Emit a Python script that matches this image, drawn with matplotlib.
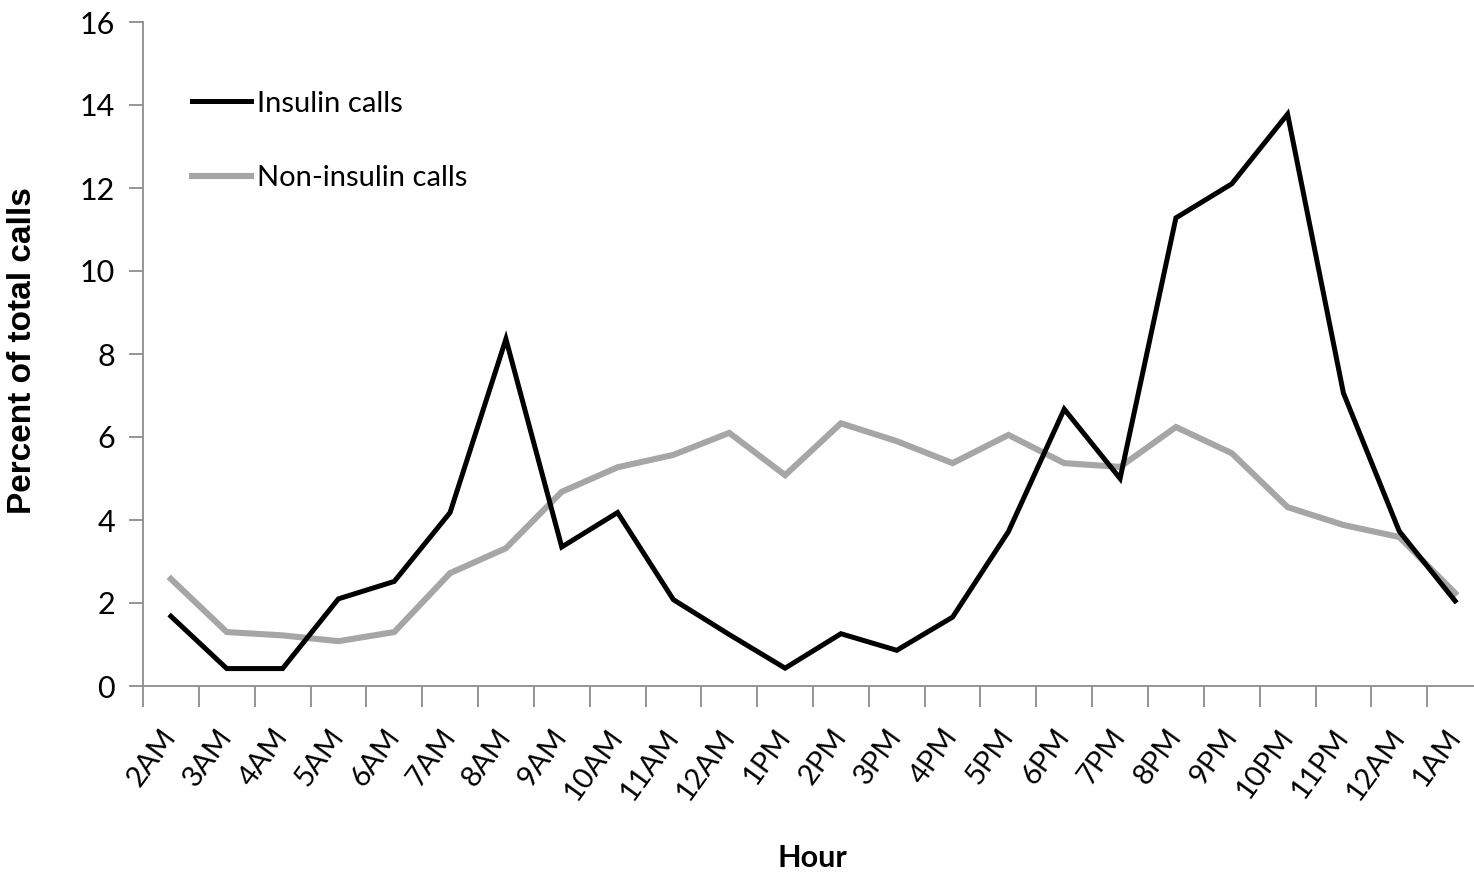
import matplotlib
matplotlib.use("Agg")
import matplotlib.pyplot as plt
import numpy as np

hours = ["2AM", "3AM", "4AM", "5AM", "6AM", "7AM", "8AM", "9AM", "10AM", "11AM",
         "12AM", "1PM", "2PM", "3PM", "4PM", "5PM", "6PM", "7PM", "8PM", "9PM",
         "10PM", "11PM", "12AM", "1AM"]
insulin = [1.68, 0.42, 0.42, 2.1, 2.52, 4.18, 8.36, 3.35, 4.18, 2.08,
           1.24, 0.43, 1.26, 0.86, 1.66, 3.72, 6.67, 5.0, 11.28, 12.1,
           13.78, 7.06, 3.73, 2.05]
non_insulin = [2.58, 1.3, 1.22, 1.08, 1.3, 2.72, 3.32, 4.68, 5.27, 5.57,
               6.1, 5.08, 6.33, 5.9, 5.37, 6.05, 5.37, 5.28, 6.24, 5.61,
               4.31, 3.88, 3.59, 2.24]
yticks = [0, 2, 4, 6, 8, 10, 12, 14, 16]

W, H = 1474, 874
fig = plt.figure(figsize=(W / 100, H / 100), dpi=100)
ax_w = 1483 - 143
ax_h = 686 - 22
ax = fig.add_axes([143 / W, (H - 686) / H, ax_w / W, ax_h / H])

x = np.arange(len(hours))
grey = "#a6a6a6"
ax.plot(x, non_insulin, color=grey, lw=4.4, solid_joinstyle="miter", label="Non-insulin calls", zorder=2)
ax.plot(x, insulin, color="black", lw=3.6, solid_joinstyle="miter", label="Insulin calls", zorder=3)

ax.set_xlim(-0.5, len(hours) - 0.5)
ax.set_ylim(0, 16)

axis_col = "#8c8c8c"
for s in ["top", "right"]:
    ax.spines[s].set_visible(False)
for s in ["left", "bottom"]:
    ax.spines[s].set_color(axis_col)
    ax.spines[s].set_linewidth(1.3)

tick_font = ["Lato", "DejaVu Sans"]
ax.set_yticks(yticks)
ax.set_yticklabels([str(v) for v in yticks], family=tick_font, fontsize=22)
ax.tick_params(axis="y", direction="out", length=10, width=1.3, color=axis_col, pad=10)

ax.set_xticks(np.arange(len(hours) + 1) - 0.5)
ax.set_xticklabels([])
ax.tick_params(axis="x", which="major", direction="out", length=15, width=1.3, color=axis_col)
ax.set_xticks(x, minor=True)
ax.set_xticklabels(hours, minor=True, family=tick_font, fontsize=21, rotation=54,
                   ha="right", va="center", rotation_mode="anchor")
ax.tick_params(axis="x", which="minor", length=0, pad=33)

ax.set_ylabel("Percent of total calls", family=["Liberation Sans", "DejaVu Sans"],
              fontweight="bold", fontsize=24)
ax.yaxis.set_label_coords(-(143 - 38) / ax_w, (686 - 351) / ax_h)
fig.text(812 / W, 1 - 858 / H, "Hour", family=tick_font, fontweight="bold",
         fontsize=22, ha="center", va="center")

handles, labels = ax.get_legend_handles_labels()
leg = ax.legend(handles[::-1], labels[::-1], loc="upper left",
                bbox_to_anchor=((180 - 143) / ax_w, (686 - 79) / ax_h),
                frameon=False, prop={"family": tick_font, "size": 21},
                handlelength=2.05, handletextpad=0.18, labelspacing=1.65, borderaxespad=0)

fig.savefig("out.png", dpi=100)
